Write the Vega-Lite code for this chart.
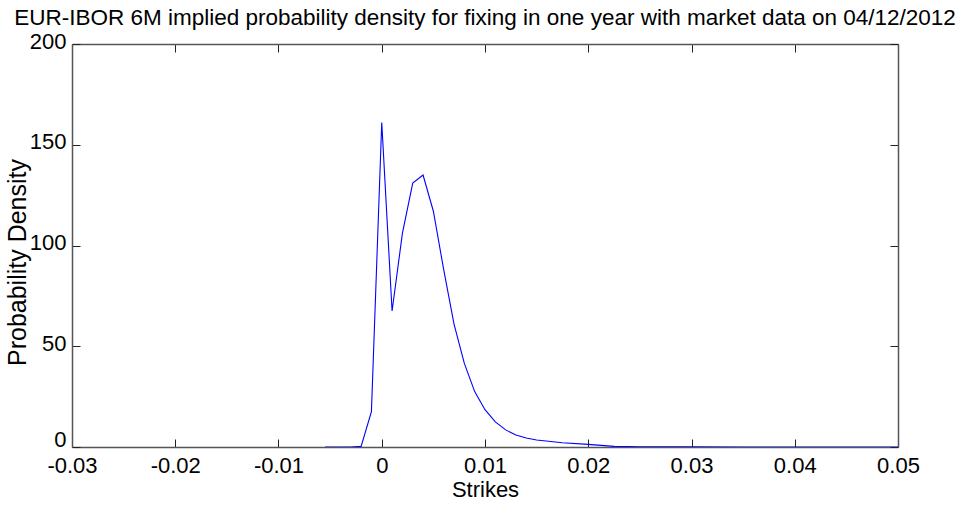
{
  "$schema": "https://vega.github.io/schema/vega-lite/v6.json",
  "width": 826,
  "height": 403,
  "autosize": {"type": "none"},
  "padding": {"left": 72, "top": 44, "right": 64, "bottom": 59},
  "background": "white",
  "title": {
    "text": "EUR-IBOR 6M implied probability density for fixing in one year with market data on 04/12/2012",
    "font": "Liberation Sans",
    "fontSize": 22.5,
    "fontWeight": "normal",
    "color": "black",
    "anchor": "middle",
    "frame": "group",
    "offset": 1
  },
  "data": {
    "values": [
      {"strike": -0.0055, "density": 0},
      {"strike": -0.004, "density": 0},
      {"strike": -0.003, "density": 0},
      {"strike": -0.002, "density": 0.3},
      {"strike": -0.001, "density": 17.5},
      {"strike": 0.0, "density": 161},
      {"strike": 0.001, "density": 67.5},
      {"strike": 0.002, "density": 106},
      {"strike": 0.003, "density": 131},
      {"strike": 0.004, "density": 135},
      {"strike": 0.005, "density": 117},
      {"strike": 0.006, "density": 88},
      {"strike": 0.007, "density": 61},
      {"strike": 0.008, "density": 41.5},
      {"strike": 0.009, "density": 27.5},
      {"strike": 0.01, "density": 18.5},
      {"strike": 0.011, "density": 12.5},
      {"strike": 0.012, "density": 8.5},
      {"strike": 0.013, "density": 6},
      {"strike": 0.014, "density": 4.5},
      {"strike": 0.015, "density": 3.5},
      {"strike": 0.0175, "density": 2.1},
      {"strike": 0.02, "density": 1.3},
      {"strike": 0.0225, "density": 0.3},
      {"strike": 0.025, "density": 0.1},
      {"strike": 0.03, "density": 0.05},
      {"strike": 0.035, "density": 0.02},
      {"strike": 0.04, "density": 0.01},
      {"strike": 0.045, "density": 0},
      {"strike": 0.05, "density": 0}
    ]
  },
  "layer": [
    {
      "mark": {"type": "line", "color": "#0000ff", "strokeWidth": 1.1, "clip": true},
      "encoding": {
        "x": {
          "field": "strike",
          "type": "quantitative",
          "scale": {"domain": [-0.03, 0.05], "nice": false, "zero": false},
          "axis": {
            "orient": "bottom",
            "values": [-0.03, -0.02, -0.01, 0, 0.01, 0.02, 0.03, 0.04, 0.05],
            "labelExpr": "'' + datum.value",
            "title": "Strikes",
            "titleX": 413,
            "titleY": 49.5,
            "titleBaseline": "alphabetic",
            "titleAnchor": null,
            "titleAlign": "center",
            "tickSize": -8,
            "labelPadding": 33,
            "labelBaseline": "alphabetic",
            "labelFlush": false,
            "labelOverlap": false
          }
        },
        "y": {
          "field": "density",
          "type": "quantitative",
          "scale": {"domain": [0, 200], "nice": false},
          "axis": {
            "orient": "left",
            "values": [0, 50, 100, 150, 200],
            "title": "Probability Density",
            "titleX": -47,
            "titleY": 218,
            "titleAngle": 270,
            "titleFontSize": 25,
            "titleBaseline": "alphabetic",
            "titleAlign": "center",
            "tickSize": -8,
            "labelPadding": 14,
            "labelBaseline": "middle",
            "labelOffset": {"condition": {"test": "datum.value === 0", "value": -8}, "value": -3},
            "labelFlush": false,
            "labelOverlap": false
          }
        }
      }
    },
    {
      "mark": {"type": "line", "strokeOpacity": 0},
      "encoding": {
        "x": {
          "field": "strike",
          "type": "quantitative",
          "axis": {
            "orient": "top",
            "values": [-0.03, -0.02, -0.01, 0, 0.01, 0.02, 0.03, 0.04, 0.05],
            "labels": false,
            "title": null,
            "tickSize": -8
          }
        },
        "y": {
          "field": "density",
          "type": "quantitative",
          "axis": {
            "orient": "right",
            "values": [0, 50, 100, 150, 200],
            "labels": false,
            "title": null,
            "tickSize": -8
          }
        }
      }
    }
  ],
  "resolve": {"axis": {"x": "independent", "y": "independent"}},
  "config": {
    "view": {"stroke": null},
    "axis": {
      "grid": false,
      "domainColor": "#555555",
      "domainWidth": 1.5,
      "tickColor": "#222222",
      "tickWidth": 1,
      "labelFont": "Liberation Sans",
      "labelFontSize": 22,
      "labelColor": "black",
      "titleFont": "Liberation Sans",
      "titleFontSize": 22,
      "titleFontWeight": "normal",
      "titleColor": "black"
    }
  }
}
